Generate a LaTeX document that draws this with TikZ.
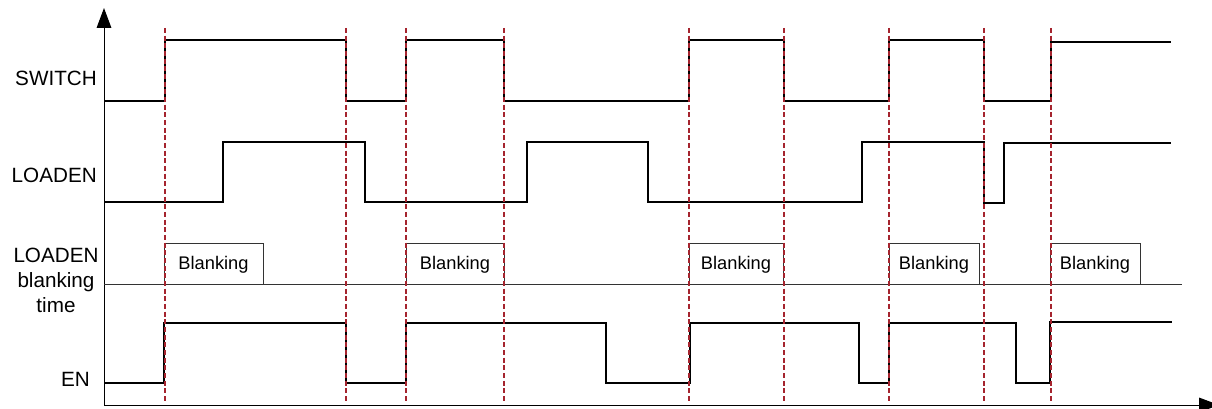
\documentclass[tikz,border=0pt]{standalone}
\usepackage{fontspec}
\setmainfont{Liberation Sans}
\usepackage{xcolor}
\usetikzlibrary{arrows.meta}
\definecolor{edgered}{RGB}{165,36,46}

\begin{document}
\begin{tikzpicture}[
    x=0.75pt,
    y=-0.75pt,
    >={Triangle[length=15pt, width=11pt]},
    axis/.style={->, line width=0.75pt},
    signal/.style={line width=1.5pt, line join=miter},
    edgeline/.style={edgered, line width=0.85pt, dash pattern=on 3.75pt off 2pt},
    blankbox/.style={draw=black!80, line width=0.6pt},
    signame/.style={font=\fontsize{15.5}{18.75}\selectfont, inner sep=0pt},
    boxtext/.style={font=\fontsize{13.7}{16}\selectfont, inner sep=0pt, anchor=base}
]
\useasboundingbox (0,0) rectangle (1212,409);

% Axes
\coordinate (O) at (104,405);
\coordinate (Ytop) at (104,8);
\coordinate (Xend) at (1219,405);
\draw[axis] (O) -- (Ytop);
\draw[axis] (O) -- (Xend);

% Signal names
\node[signame, anchor=east] (SW) at (97,78) {SWITCH};
\node[signame, anchor=east] (LD) at (97,175) {LOADEN};
\node[signame, align=center] (BT) at (56,280.5) {LOADEN\\blanking\\time};
\node[signame, anchor=east] (EN) at (90,379) {EN};

% SWITCH
\draw[signal] (104,101) -- (165,101) -- (165,40) -- (346,40) -- (346,101)
    -- (406,101) -- (406,40) -- (504,40) -- (504,101) -- (689,101)
    -- (689,40) -- (784,40) -- (784,101) -- (889,101) -- (889,40)
    -- (984,40) -- (984,101) -- (1051,101) -- (1051,42) -- (1171,42);

% LOADEN
\draw[signal] (104,202) -- (223,202) -- (223,142) -- (365,142) -- (365,202)
    -- (527,202) -- (527,142) -- (648,142) -- (648,202) -- (862,202)
    -- (862,142) -- (984,142) -- (984,203) -- (1004,203) -- (1004,143)
    -- (1171,143);

% LOADEN blanking time
\draw[blankbox] (104,284) -- (1182,284);
\foreach \a/\b [count=\i] in {164/263, 406/504, 689/783, 889/979, 1050/1140} {
    \draw[blankbox] (\a,284) rectangle (\b,243);
    \node[boxtext] (blank\i) at ({(\a+\b)/2},270) {Blanking};
}

% EN
\draw[signal] (104,383) -- (164,383) -- (164,323) -- (346,323) -- (346,383)
    -- (406,383) -- (406,323) -- (606,323) -- (606,383) -- (690,383)
    -- (690,323) -- (859,323) -- (859,383) -- (889,383) -- (889,323)
    -- (1016,323) -- (1016,383) -- (1050,383) -- (1050,322) -- (1172,322);

% SWITCH edges
\foreach \x in {165,346,406,504,689,784,889,984,1051}
    \draw[edgeline] (\x,28) -- (\x,403);

\end{tikzpicture}
\end{document}
